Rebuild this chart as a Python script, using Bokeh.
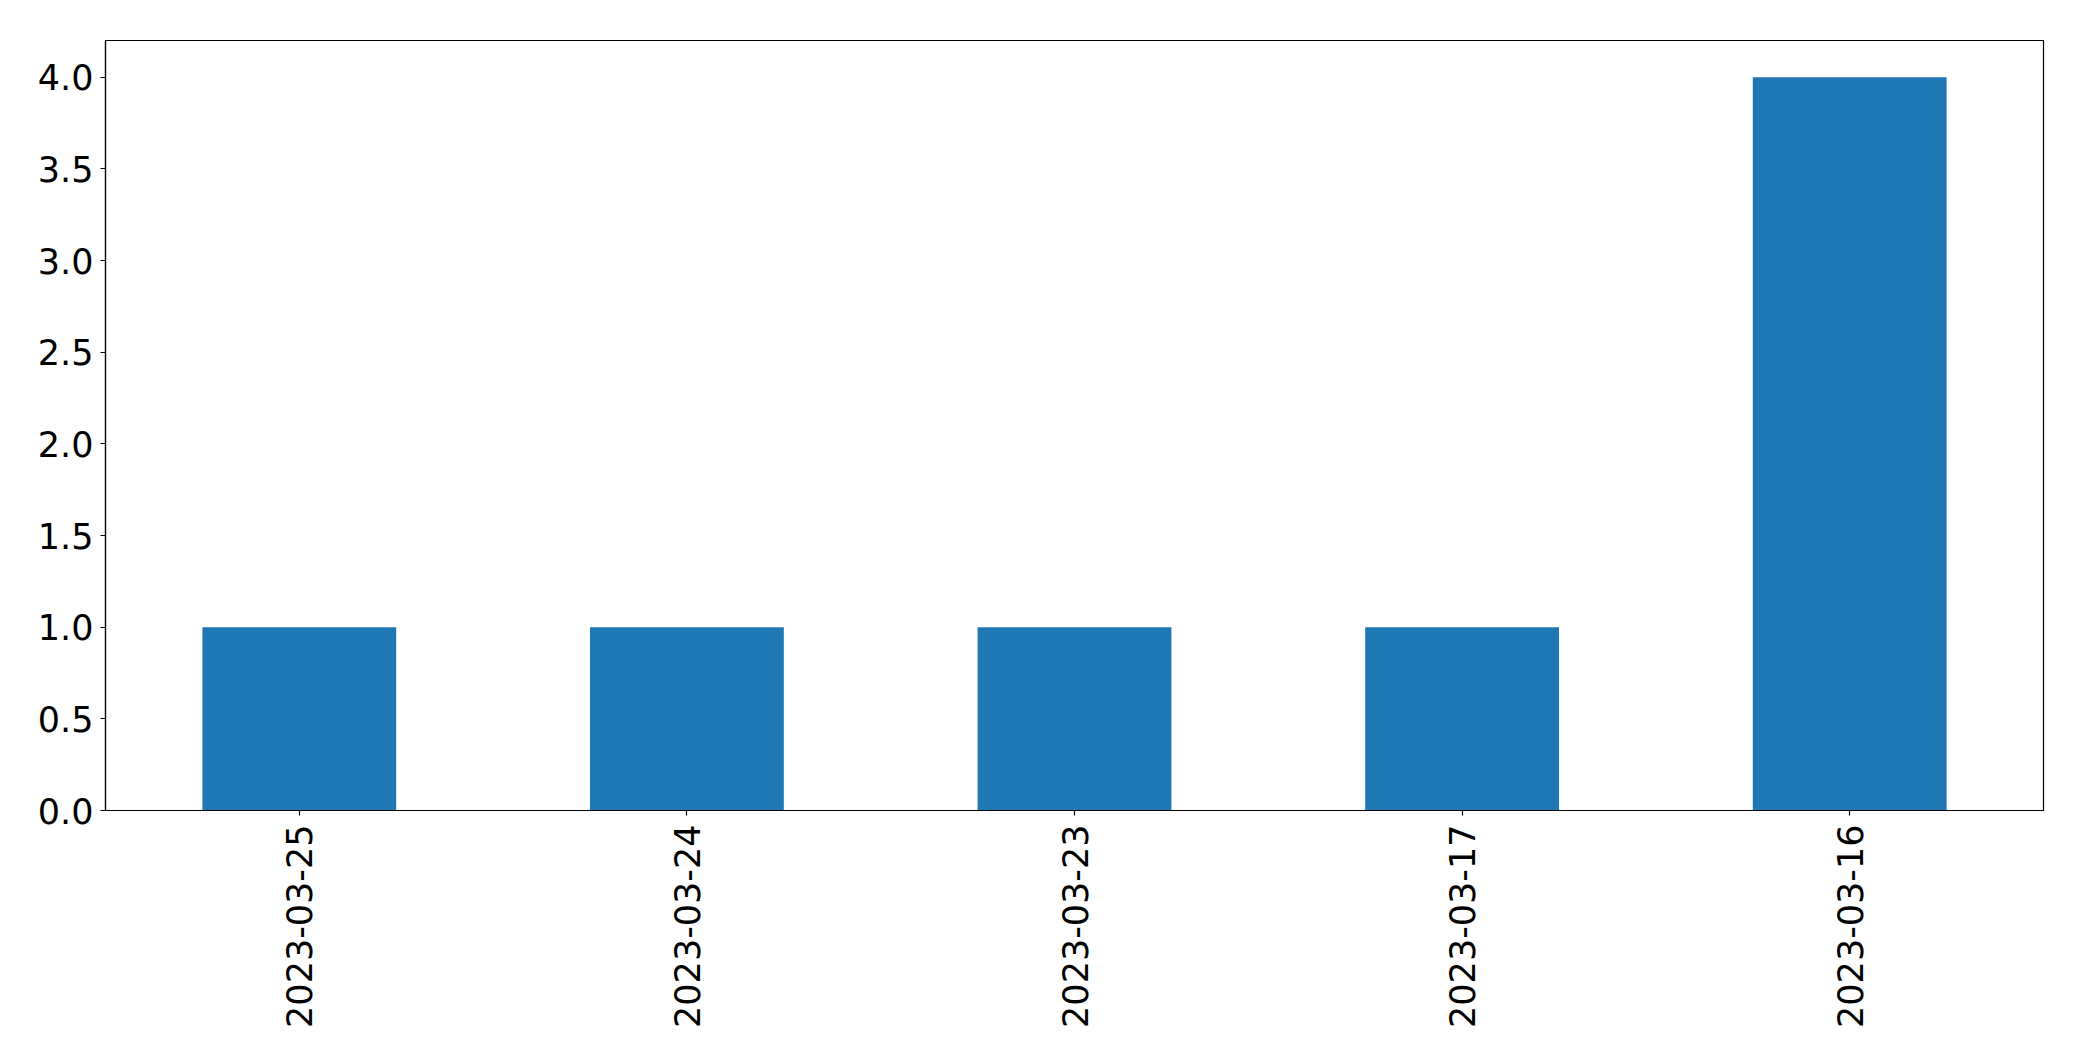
import math
from bokeh.plotting import figure
from bokeh.models import FactorRange, Range1d, FixedTicker, PrintfTickFormatter, ColumnDataSource
from bokeh.embed import file_html
from bokeh.resources import INLINE

dates = ["2023-03-25", "2023-03-24", "2023-03-23", "2023-03-17", "2023-03-16"]
counts = [1, 1, 1, 1, 4]
y_ticks = [0.0, 0.5, 1.0, 1.5, 2.0, 2.5, 3.0, 3.5, 4.0]

src = ColumnDataSource(dict(x=dates, top=counts))

p = figure(x_range=FactorRange(factors=dates, range_padding=0),
           y_range=Range1d(0, 4.2),
           frame_width=1938, frame_height=770,
           min_border_left=105, min_border_right=31, min_border_top=40, min_border_bottom=236,
           output_backend="svg", toolbar_location=None)

p.vbar(x="x", top="top", width=0.5, source=src, fill_color="#1f77b4", line_color=None)

p.xgrid.visible = False
p.ygrid.visible = False
p.outline_line_color = "black"
p.outline_line_width = 1.2
p.outline_line_alpha = 1.0
p.background_fill_color = "white"
p.border_fill_color = "white"

for ax in (p.xaxis[0], p.yaxis[0]):
    ax.axis_line_color = "black"
    ax.axis_line_width = 1.2
    ax.major_tick_line_color = "black"
    ax.major_tick_line_width = 1.2
    ax.major_tick_out = 5
    ax.major_tick_in = 0
    ax.minor_tick_line_color = None
    ax.major_label_text_font = "DejaVu Sans"
    ax.major_label_text_font_size = "35px"
    ax.major_label_text_color = "black"

p.yaxis[0].ticker = FixedTicker(ticks=y_ticks)
p.yaxis[0].formatter = PrintfTickFormatter(format="%.1f")
p.yaxis[0].major_label_standoff = 7
p.xaxis[0].major_label_orientation = math.pi / 2
p.xaxis[0].major_label_standoff = 9

open("out.html", "w").write(file_html(p, INLINE))
